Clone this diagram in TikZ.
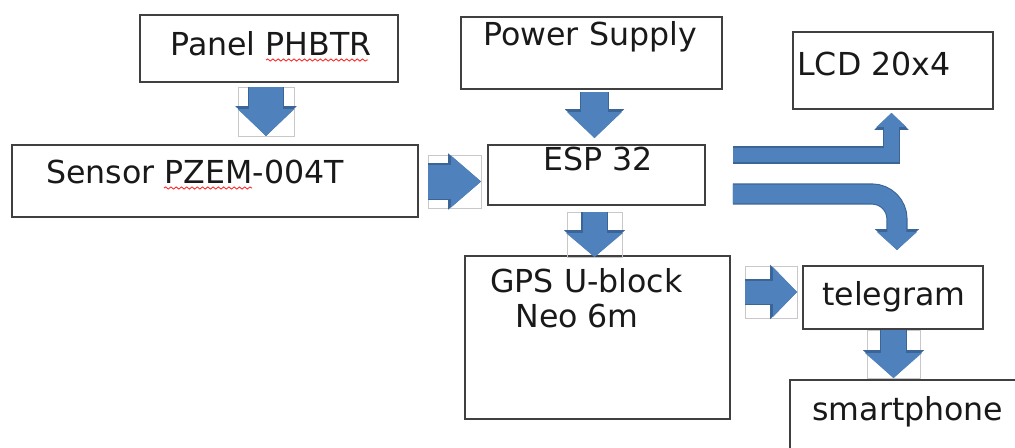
\documentclass[tikz,border=0pt]{standalone}
\usepackage{fontspec}
\setmainfont{DejaVu Sans}
\usetikzlibrary{calc,arrows.meta,decorations.pathmorphing}
\definecolor{arrowblue}{HTML}{4F81BD}
\definecolor{arrowedge}{HTML}{3A6596}
\definecolor{framegray}{HTML}{C8C8C8}

\begin{document}
\begin{tikzpicture}[
  x=0.02cm, y=-0.02cm,
  box/.style={draw=black!75, line width=0.8pt, anchor=north west, inner sep=0pt, outer sep=0pt},
  txt/.style={anchor=base west, inner sep=0pt, align=left, text=black!90, font=\fontsize{18}{19.5}\selectfont},
  frame/.style={draw=framegray, line width=0.5pt, inner sep=0pt, outer sep=0pt},
  blk/.style n args={3}{draw=arrowblue, line width=#1, -{Triangle[width=#2, length=#3, line width=0pt]},
    preaction={draw=arrowedge, line width=#1+1.2pt, -{Triangle[width=#2+2.4pt, length=#3+1.6pt, line width=0pt]}}},
  squiggle/.style={draw=red!85, line width=0.5pt, decorate, decoration={snake, amplitude=0.6pt, segment length=3pt}}
]
\clip (0,0) rectangle (1015,447);

% blocks
\node[box, minimum width=5.16cm, minimum height=1.34cm] (panel) at (140,15) {};
\node[box, minimum width=8.12cm, minimum height=1.44cm] (sensor) at (12,145) {};
\node[box, minimum width=5.22cm, minimum height=1.44cm] (power) at (461,17) {};
\node[box, minimum width=4.34cm, minimum height=1.2cm] (esp) at (488,145) {};
\node[box, minimum width=4.0cm, minimum height=1.54cm] (lcd) at (793,32) {};
\node[box, minimum width=5.3cm, minimum height=3.26cm] (gps) at (465,256) {};
\node[box, minimum width=3.6cm, minimum height=1.26cm] (tele) at (803,266) {};
\node[box, minimum width=4.8cm, minimum height=1.6cm] (phone) at (790,380) {};

% labels
\node[txt] (panelt) at ($(panel.north west)+(30,40)$) {Panel PHBTR};
\node[txt] (sensort) at ($(sensor.north west)+(34,38)$) {Sensor PZEM-004T};
\node[txt] (powert) at ($(power.north west)+(22,28)$) {Power Supply};
\node[txt] (espt) at ($(esp.north west)+(55,25)$) {ESP 32};
\node[txt] (lcdt) at ($(lcd.north west)+(4,43)$) {LCD 20x4};
\node[txt] (gpst) at ($(gps.north west)+(25,71)$) {GPS U-block\\\hspace*{0.5cm}Neo 6m};
\node[txt] (telet) at ($(tele.north west)+(19,39)$) {telegram};
\node[txt] (phonet) at ($(phone.north west)+(22,40)$) {smartphone};

\draw[squiggle] ($(panelt.base west)+(96,5)$) -- ++(102,0);
\draw[squiggle] ($(sensort.base west)+(118,5)$) -- ++(88,0);

% selection frames round the arrows
\node[frame, minimum width=1.12cm, minimum height=0.98cm] (f1) at (266,111.5) {};
\node[frame, minimum width=1.06cm, minimum height=1.06cm] (f2) at (454.5,181.5) {};
\node[frame, minimum width=1.1cm, minimum height=0.9cm] (f3) at (594.5,234.5) {};
\node[frame, minimum width=1.04cm, minimum height=1.04cm] (f4) at (771,292) {};
\node[frame, minimum width=1.06cm, minimum height=0.96cm] (f5) at (893.5,354) {};

% block arrows
\draw[blk={0.68cm}{1.14cm}{0.54cm}] (f1.north) -- (f1.south);
\draw[blk={0.68cm}{1.04cm}{0.6cm}] (f2.west) -- (f2.east);
\draw[blk={0.54cm}{1.1cm}{0.52cm}] ($(power.south -| f3)+(0,3)$) -- ($(esp.north -| f3)+(0,-7)$);
\draw[blk={0.48cm}{1.14cm}{0.48cm}] (f3.north) -- (f3.south);
\draw[blk={0.3cm}{0.6cm}{0.28cm}] ($(esp.east)+(28,-20)$) -| ($(lcd.south)+(-1.5,4)$);
\draw[blk={0.38cm}{0.8cm}{0.36cm}, rounded corners=0.5cm] ($(esp.east)+(28,19)$) -| ($(tele.north)+(4,-16)$);
\draw[blk={0.46cm}{1.0cm}{0.48cm}] (f4.west) -- (f4.east);
\draw[blk={0.5cm}{1.14cm}{0.5cm}] (f5.north) -- (f5.south);
\end{tikzpicture}
\end{document}
